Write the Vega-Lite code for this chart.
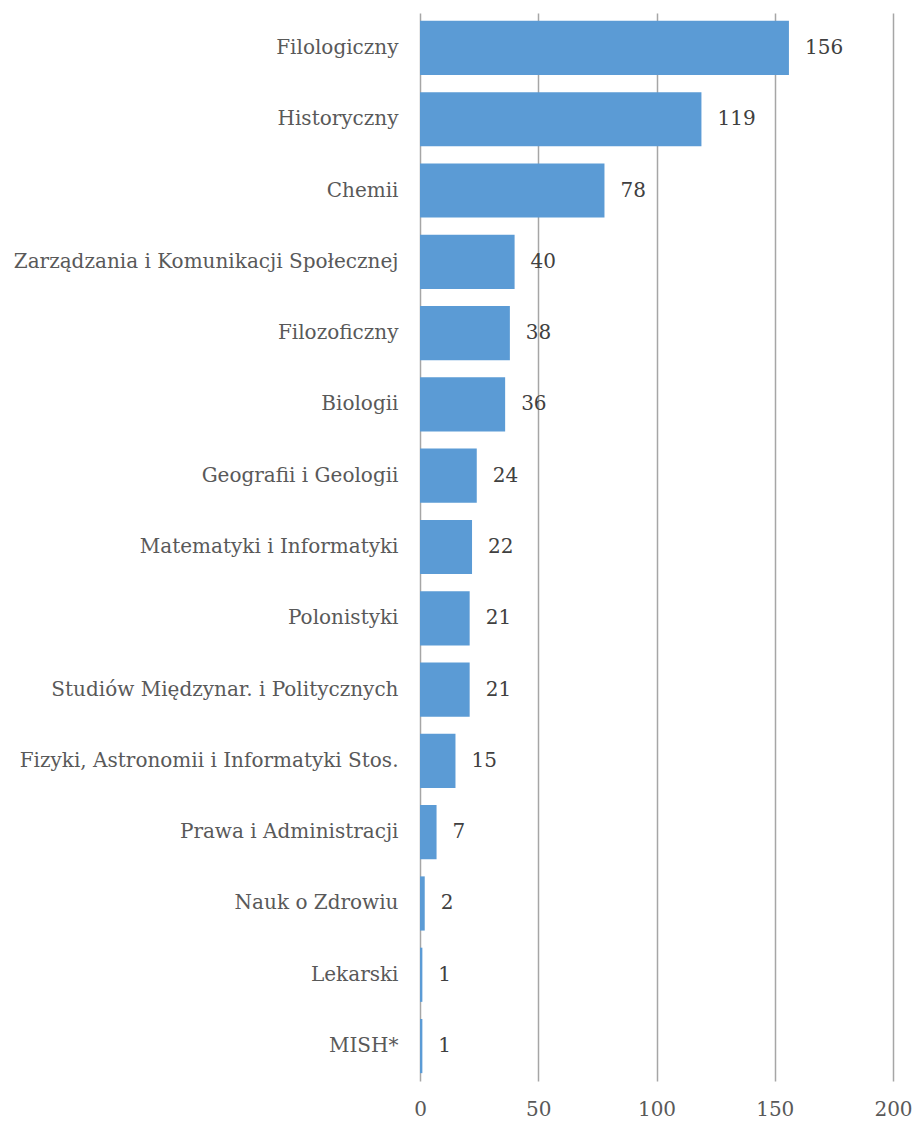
{
  "$schema": "https://vega.github.io/schema/vega-lite/v6.json",
  "width": 473,
  "height": 1068,
  "autosize": {"type": "none"},
  "padding": {"left": 420, "top": 13, "right": 24, "bottom": 42},
  "background": "white",
  "config": {"view": {"stroke": null}},
  "data": {"values": [
    {"wydzial": "Filologiczny", "n": 156},
    {"wydzial": "Historyczny", "n": 119},
    {"wydzial": "Chemii", "n": 78},
    {"wydzial": "Zarządzania i Komunikacji Społecznej", "n": 40},
    {"wydzial": "Filozoficzny", "n": 38},
    {"wydzial": "Biologii", "n": 36},
    {"wydzial": "Geografii i Geologii", "n": 24},
    {"wydzial": "Matematyki i Informatyki", "n": 22},
    {"wydzial": "Polonistyki", "n": 21},
    {"wydzial": "Studiów Międzynar. i Politycznych", "n": 21},
    {"wydzial": "Fizyki, Astronomii i Informatyki Stos.", "n": 15},
    {"wydzial": "Prawa i Administracji", "n": 7},
    {"wydzial": "Nauk o Zdrowiu", "n": 2},
    {"wydzial": "Lekarski", "n": 1},
    {"wydzial": "MISH*", "n": 1}
  ]},
  "encoding": {
    "y": {
      "field": "wydzial", "type": "nominal", "sort": null,
      "scale": {"paddingInner": 0.24, "paddingOuter": 0.11},
      "axis": {"title": null, "ticks": false, "domain": false, "grid": false,
        "labelFont": "DejaVu Serif", "labelFontSize": 20, "labelColor": "#595959",
        "labelPadding": 22, "labelLimit": 420}
    },
    "x": {
      "field": "n", "type": "quantitative",
      "scale": {"domain": [0, 200], "nice": false},
      "axis": {"title": null, "values": [0, 50, 100, 150, 200], "ticks": false, "domain": false,
        "grid": true, "gridColor": "#a6a6a6", "gridWidth": 1.5,
        "labelFont": "DejaVu Serif", "labelFontSize": 20, "labelColor": "#595959",
        "labelPadding": 18, "labelFlush": false}
    }
  },
  "layer": [
    {"mark": {"type": "bar", "color": "#5b9bd5"}},
    {"mark": {"type": "text", "align": "left", "baseline": "middle", "dx": 16,
      "font": "DejaVu Serif", "fontSize": 20, "color": "#404040"},
     "encoding": {"text": {"field": "n", "type": "quantitative"}}}
  ]
}
